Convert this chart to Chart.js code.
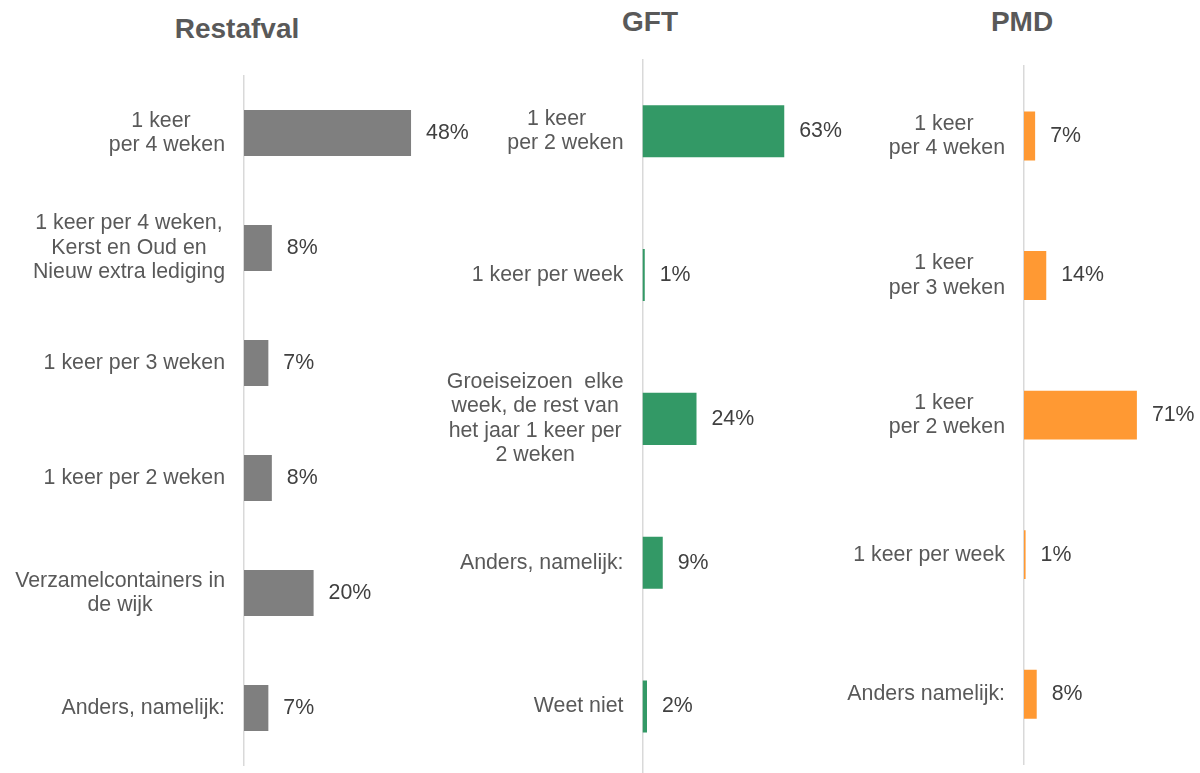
<!DOCTYPE html>
<html><head><meta charset="utf-8">
<script src="https://cdn.jsdelivr.net/npm/chart.js@4.4.1/dist/chart.umd.min.js"></script>
<style>
html,body{margin:0;padding:0;background:#fff;width:1200px;height:773px;overflow:hidden;position:relative;font-family:"Liberation Sans",Arial,sans-serif}
canvas{position:absolute;top:0}
.title{position:absolute;font-weight:bold;font-size:28px;color:#595959;transform:translate(-50%,-50%);white-space:nowrap;line-height:1}
</style></head><body>
<div class="title" style="left:237px;top:29px">Restafval</div>
<div class="title" style="left:650px;top:22px">GFT</div>
<div class="title" style="left:1022px;top:22px">PMD</div>
<canvas id="c1" width="470" height="773" style="left:0px"></canvas>
<canvas id="c2" width="450" height="790" style="left:400px"></canvas>
<canvas id="c3" width="380" height="773" style="left:820px"></canvas>
<script>
// ---- data ----
const restLabels = [["1 keer  ","per 4 weken"],["1 keer per 4 weken,","Kerst en Oud en","Nieuw extra lediging"],"1 keer per 3 weken","1 keer per 2 weken",["Verzamelcontainers in","de wijk"],"Anders, namelijk:"];
const restValues = [48, 8, 7, 8, 20, 7];
const gftLabels = [["1 keer   ","per 2 weken"],"1 keer per week",["Groeiseizoen  elke","week, de rest van","het jaar 1 keer per","2 weken"],"Anders, namelijk:","Weet niet"];
const gftValues = [63, 1, 24, 9, 2];
const pmdLabels = [["1 keer ","per 4 weken"],["1 keer ","per 3 weken"],["1 keer ","per 2 weken"],"1 keer per week","Anders namelijk:"];
const pmdValues = [7, 14, 71, 1, 8];

const FONT = '"Liberation Sans", Arial, sans-serif';
const labelPlugin = {
  id: 'labelPlugin',
  afterDraw(chart) {
    const ctx = chart.ctx;
    const ys = chart.scales.y, xs = chart.scales.x;
    const labels = chart.data.labels;
    const vals = chart.data.datasets[0].data;
    ctx.save();
    ctx.font = '21.33px ' + FONT;
    ctx.textBaseline = 'middle';
    const lh = 24.5;
    labels.forEach((lab, i) => {
      const lines = Array.isArray(lab) ? lab : [lab];
      const y = ys.getPixelForValue(i);
      let widest = 0;
      lines.forEach(l => { widest = Math.max(widest, ctx.measureText(l).width); });
      const cx = xs.left - 19 - widest / 2;
      ctx.fillStyle = '#595959';
      ctx.textAlign = 'center';
      lines.forEach((l, k) => {
        ctx.fillText(l, cx, y + (k - (lines.length - 1) / 2) * lh);
      });
      ctx.fillStyle = '#404040';
      ctx.textAlign = 'left';
      ctx.fillText(vals[i] + '%', xs.getPixelForValue(vals[i]) + 15, y);
    });
    ctx.restore();
  }
};

function makeChart(id, labels, values, color, pad, max, barPct) {
  return new Chart(document.getElementById(id), {
    type: 'bar',
    data: { labels: labels, datasets: [{ data: values, backgroundColor: color, barPercentage: barPct, categoryPercentage: 1 }] },
    options: {
      indexAxis: 'y', responsive: false, animation: false, devicePixelRatio: 1,
      layout: { padding: pad },
      plugins: { legend: { display: false }, tooltip: { enabled: false }, title: { display: false } },
      scales: {
        x: { display: false, min: 0, max: max },
        y: { display: true, offset: true, ticks: { display: false }, grid: { display: false, drawTicks: false },
             border: { display: true, color: '#d9d9d9', width: 1.5 },
             afterFit: s => { s.width = 0; } }
      }
    },
    plugins: [labelPlugin]
  });
}

makeChart('c1', restLabels, restValues, '#7f7f7f', { left: 244, top: 75.5, bottom: 7.5, right: 17.2 }, 60, 0.4);
makeChart('c2', gftLabels, gftValues, '#339966', { left: 242.5, top: 59.3, bottom: 11.6, right: 27.5 }, 80, 0.362);
makeChart('c3', pmdLabels, pmdValues, '#ff9933', { left: 204, top: 66.2, bottom: 9, right: 48.8 }, 80, 0.35);
</script>
</body></html>
